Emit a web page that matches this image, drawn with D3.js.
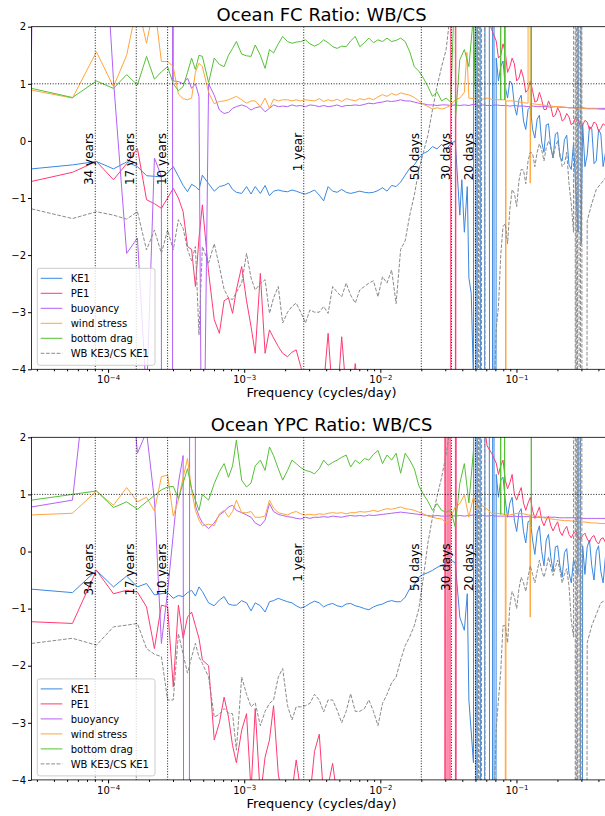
<!DOCTYPE html>
<html>
<head>
<meta charset="utf-8">
<script src="https://cdn.jsdelivr.net/npm/d3@7"></script>
<style>
  body { margin: 0; background: #fff; }
  text { font-family: "DejaVu Sans", sans-serif; }
</style>
</head>
<body>
<script>
// frequencies are harmonics of a 100 year record: f = harmonic / recordDays (cycles/day)
const recordDays = 36525;

const harmonics = [
  1, 2, 3, 4, 5, 6, 7, 8, 9, 10,
  11, 12, 13, 14, 15, 16, 17, 18, 20, 22,
  24, 26, 28, 30, 32, 35, 38, 41, 44, 48,
  52, 56, 60, 65, 70, 76, 82, 88, 95, 103,
  111, 120, 130, 140, 151, 163, 176, 190, 205, 221,
  239, 258, 279, 301, 325, 351, 379, 409, 442, 477,
  515, 556, 601, 649, 701, 757, 817, 883, 953, 1030,
  1112, 1201, 1297, 1401, 1513, 1634, 1765, 1906, 2058, 2223,
  2401, 2593, 2800, 3024, 3266, 3527, 3810, 4115, 4444, 4799,
  5183, 5598, 6046, 6530, 7052, 7616, 8225, 8883, 9594, 10361,
  11190, 12085, 13052, 14096, 15224, 16442, 17757, 18262
];

const seriesNames = ["KE1", "PE1", "buoyancy", "wind stress", "bottom drag", "WB KE3/CS KE1"];
const periodNames = ["34 years", "17 years", "10 years", "1 year", "50 days", "30 days", "20 days"];
const periodDays = [12418.5, 6209.25, 3652.5, 365.25, 50, 30, 20];
const yTickValues = [-4, -3, -2, -1, 0, 1, 2];
const xTickValues = [1e-4, 1e-3, 1e-2, 1e-1];
const xTickExponents = ["\u22124", "\u22123", "\u22122", "\u22121"];

// ---- Ocean FC ratio ----
const ke1FC = [
  -0.49, -0.42, -0.36, -0.49, -0.37, -0.45, -0.61, -0.62, -0.63, -0.56,
  -0.45, -0.62, -0.78, -0.89, -0.76, -0.8, -0.86, -0.6, -0.75, -0.88,
  -0.8, -0.78, -0.74, -0.85, -0.9, -0.92, -0.8, -0.93, -0.8, -0.92,
  -0.78, -0.96, -0.88, -0.86, -0.88, -0.89, -0.86, -0.88, -0.91, -0.93,
  -0.9, -0.86, -0.95, -1.05, -0.8, -0.88, -0.9, -0.85, -0.9, -0.92,
  -0.9, -0.88, -0.9, -0.91, -0.9, -0.87, -0.82, -0.88, -0.78, -0.8,
  -0.72, -0.6, -0.48, -0.42, -0.3, -0.22, -0.18, -0.1, -0.14, -0.06,
  -0.15, -0.05, 0.0, -1.3, -1.6, -2.4, -4.2, 60, -60, 60,
  -60, 1.45, 1.3, 0.95, 1.05, 0.62, 0.72, 0.35, 0.55, 0.2,
  0.38, -0.02, 0.28, -0.12, 0.12, -0.28, 0.02, -0.42, -0.05, -1.6,
  0.3, -0.25, 0.22, -0.35, 0.12, -0.22, 0.05, -0.05
];
const pe1FC = [
  -0.71, -0.55, -0.36, -0.68, -0.4, -0.13, -1.03, -1.1, -1.18, -1.0,
  -0.83, -1.0, -1.24, -1.85, -1.9, -2.55, -1.7, -1.12, -2.3, -3.13,
  -3.37, -2.8, -2.75, -3.02, -2.61, -2.2, -2.8, -3.25, -3.72, -2.32,
  -3.72, -3.31, -3.45, -3.6, -3.72, -3.78, -3.7, -3.66, -3.95, -4.3,
  -4.5, -4.4, -4.7, -4.3, -3.37, -4.5, -4.6, -3.43, -4.4, -4.7,
  -3.9, -4.6, -4.8, -5, -4.7, -5, -5.2, -5, -5.3, -5.5,
  -5.2, -5.5, -5.6, -5.8, -6, -6, -6.2, -6.5, -7, -8,
  -10, -10, 60, 8, 6, 5, 4, 3.5, 3, 2.2,
  1.95, 1.75, 1.5, 1.55, 1.3, 1.35, 1.1, 1.1, 0.9, 0.88,
  0.7, 0.72, 0.55, 0.6, 0.45, 0.5, 0.38, 0.42, 0.32, 0.38,
  0.28, 0.33, 0.24, 0.3, 0.22, 0.27, 0.2, 0.22
];
const buoyFC = [
  1.55, 60, 6, 1.07, -1.97, -1.7, -4.5, -0.3, -0.62, -60,
  1.05, 1.04, 1.0, 1.1, 0.92, 1.0, 0.78, -8, 1.0, 0.8,
  0.54, 0.48, 0.5, 0.57, 0.6, 0.63, 0.6, 0.54, 0.58, 0.6,
  0.51, 0.57, 0.63, 0.6, 0.61, 0.6, 0.63, 0.61, 0.62, 0.6,
  0.63, 0.62, 0.6, 0.62, 0.6, 0.61, 0.63, 0.6, 0.62, 0.62,
  0.63, 0.62, 0.64, 0.66, 0.65, 0.67, 0.68, 0.7, 0.69, 0.7,
  0.72, 0.7, 0.7, 0.68, 0.66, 0.65, 0.63, 0.63, 0.62, 0.63,
  0.63, 0.62, 0.63, 0.62, 0.63, 0.62, 0.64, 0.62, 0.63, 0.62,
  0.62, 0.63, 0.62, 0.62, 0.61, 0.62, 0.61, 0.61, 0.6, 0.61,
  0.6, 0.6, 0.6, 0.59, 0.6, 0.59, 0.59, 0.58, 0.58, 0.58,
  0.58, 0.57, 0.57, 0.57, 0.57, 0.57, 0.57, 0.57
];
const windFC = [
  0.89, 0.75, 1.56, 0.95, 1.5, 2.4, 1.71, 2.4, 1.39, 1.39,
  1.3, 0.82, 0.74, 0.72, 0.75, 1.2, 1.36, 1.3, 0.85, 0.65,
  0.69, 0.7, 0.72, 0.75, 0.78, 0.72, 0.66, 0.7, 0.7, 0.6,
  0.75, 0.57, 0.73, 0.7, 0.72, 0.72, 0.7, 0.72, 0.7, 0.72,
  0.71, 0.7, 0.74, 0.69, 0.72, 0.7, 0.73, 0.69, 0.74, 0.72,
  0.7, 0.74, 0.72, 0.75, 0.72, 0.77, 0.81, 0.78, 0.83, 0.8,
  0.84, 0.82, 0.8, 0.76, 0.7, 0.64, 0.6, 0.56, 0.58, 0.56,
  0.58, 0.63, 0.72, 0.75, 0.85, 0.75, 0.74, 0.72, 0.73, 0.75,
  0.73, 0.72, 0.72, 0.72, 0.7, 0.7, 0.68, 0.67, 0.66, 0.65,
  0.64, 0.63, 0.62, 0.61, 0.6, 0.6, 0.59, 0.58, 0.58, 0.57,
  0.57, 0.56, 0.56, 0.56, 0.55, 0.55, 0.55, 0.55
];
const dragFC = [
  0.92, 0.76, 1.05, 0.92, 1.16, 0.98, 1.48, 1.08, 1.21, 1.3,
  1.0, 0.88, 0.95, 1.2, 1.45, 1.25, 1.5, 1.48, 1.02, 1.45,
  1.34, 1.3, 1.5, 1.62, 1.74, 1.52, 1.49, 1.48, 1.68, 1.5,
  1.27, 1.6, 1.54, 1.7, 1.83, 1.74, 1.71, 1.73, 1.74, 1.77,
  1.7, 1.66, 1.7, 1.77, 1.72, 1.65, 1.62, 1.66, 1.65, 1.75,
  1.83, 1.65, 1.72, 1.8, 1.72, 1.77, 1.74, 1.8, 1.74, 1.76,
  1.8, 1.74, 1.56, 1.3, 1.22, 1.1, 0.95, 0.78, 0.86, 0.7,
  0.75, 0.68, 3, 1.42, 1.6, 1.3, 2.2, 30, 30, 30,
  30, 30, 0.72, 30, 30, 30, 30, 30, 30, 30,
  30, 30, 30, 30, 30, 30, 30, 30, 30, 30,
  30, 30, 30, 30, 30, 30, 30, 30
];
const wbFC = [
  -1.19, -1.36, -1.24, -1.3, -1.37, -1.24, -1.91, -1.56, -1.97, -1.56,
  -1.91, -1.38, -1.53, -1.9, -2.1, -1.85, -3.4, -1.85, -2.14, -1.8,
  -2.2, -2.6, -2.75, -2.78, -2.65, -2.49, -1.97, -2.4, -2.61, -2.5,
  -2.43, -3.02, -2.75, -2.55, -3.19, -3.0, -2.9, -2.84, -3.0, -3.19,
  -2.96, -3.0, -3.0, -2.9, -3.02, -2.55, -2.65, -2.73, -2.49, -2.7,
  -2.84, -2.61, -2.55, -2.49, -2.45, -2.73, -2.38, -2.49, -2.26, -2.85,
  -1.9, -1.75, -1.3, -0.95, -0.5, -0.2, 0.1, 0.55, 0.95, 1.3,
  1.6, 2.3, 2.8, 3, 3, 3, 3, -60, 60, -60,
  -6, -3.3, -2.0, -1.45, -1.2, -0.92, -0.7, -0.51, -0.35, -0.22,
  -0.2, -0.16, -0.12, -0.1, -0.1, -0.22, -0.4, -0.75, -1.6, 60,
  -60, -1.4, -1.1, -0.85, -0.75, -0.65, -0.6, -0.6
];
// extra samples (sharp spikes and the dense high-frequency noise), as [harmonic, value]
const ke1FCx = [
  [1450, -0.68], [1590, -0.8], [1700, -2.67], [1830, 60], [1860, -60], [2480, 60], [2520, -60],
  [2694, 1.05], [2910, 1.4], [3143, 0.75], [3394, 1.0], [3666, 0.45], [3959, 0.8], [4276, 0.2],
  [4618, 0.6], [4987, 0.05], [5386, 0.45], [5818, -0.2], [6283, 0.3], [6786, -0.3], [7329, 0.15],
  [7915, -0.35], [8548, 0.1], [9232, -0.5], [10600, 60], [10900, -1.8], [11629, -0.45], [12560, 0.25],
  [13564, -0.4], [14649, 0.2], [15821, -0.45], [17087, 0.15]
];
const pe1FCx = [
  [1210, 60], [1305, -60], [1315, 60],
  [2694, 1.45], [2910, 1.7], [3143, 1.2], [3394, 1.45], [3666, 1.05], [3959, 1.25], [4276, 0.85],
  [4618, 1.05], [4987, 0.68], [5386, 0.85], [5818, 0.55], [6283, 0.7], [6786, 0.42], [7329, 0.58],
  [7915, 0.35], [8548, 0.48], [9232, 0.28], [9970, 0.42], [10768, 0.25], [11629, 0.36], [12560, 0.2],
  [13564, 0.33], [14649, 0.17], [15821, 0.3], [17087, 0.15]
];
const buoyFCx = [[9.05, -60], [10.85, -60], [10.9, 60]];
const windFCx = [[1580, 1.55], [3030, 60], [3045, -60], [3060, 0.7], [4580, 60], [4610, -0.74], [4640, 0.66]];
const dragFCx = [[1305, 0.43], [1830, 0.6], [2900, 30], [2990, 0.72], [4700, 0.43]];
const wbFCx = [
  [1810, 60], [1840, -60], [1940, 60], [1990, -60],
  [2694, -2.9], [2910, -1.5], [3143, -1.8], [3394, -0.85], [3666, -1.15], [3959, -0.5], [4276, -0.75],
  [4618, -0.2], [4987, -0.45], [5386, -0.05], [5818, -0.35], [6283, 0.0], [6786, -0.3], [7329, 0.0],
  [7915, -0.45], [8548, -0.2], [9232, -1.1],
  [9800, 60], [9950, -60], [10100, 60], [10200, -60], [10700, -60], [10900, 60]
];

// ---- Ocean YPC ratio ----
const ke1YPC = [
  -0.66, -0.72, -0.33, -0.62, -0.43, -0.62, -0.56, -0.76, -0.74, -0.72,
  -0.82, -0.77, -0.79, -0.72, -0.68, -0.78, -0.62, -0.7, -0.9, -0.95,
  -0.85, -0.79, -0.92, -0.94, -0.94, -0.86, -0.9, -1.04, -0.9, -0.95,
  -1.06, -0.88, -0.86, -0.82, -0.85, -0.88, -0.9, -0.95, -0.99, -0.96,
  -0.91, -0.87, -0.9, -0.97, -0.93, -0.91, -0.95, -0.97, -0.92, -0.91,
  -0.95, -0.97, -1.0, -1.02, -0.97, -0.94, -0.92, -0.88, -0.86, -0.88,
  -0.88, -0.8, -0.65, -0.58, -0.45, -0.4, -0.37, -0.33, -0.28, -0.24,
  -0.22, -0.15, -0.2, -1.15, -1.38, -2.6, -3.7, 60, -60, 60,
  -60, 1.35, 1.25, 0.9, 0.85, 0.55, 0.68, 0.35, 0.52, 0.2,
  0.32, 0.0, 0.2, -0.1, 0.08, -0.25, -0.02, -0.38, -0.15, -0.4,
  0.1, 0.08, -0.25, 0.0, -0.35, -0.1, -0.3, -0.2
];
const pe1YPC = [
  -1.23, -1.26, -0.33, -0.74, -0.68, -0.71, -0.97, -1.7, -0.94, -0.97,
  -2.37, -0.94, -1.52, -1.15, -1.06, -1.3, -1.52, -1.9, -2.0, -3.3,
  -3.0, -2.55, -2.9, -3.4, -3.7, -3.13, -2.84, -4.2, -2.75, -4.3,
  -3.6, -3.3, -2.7, -3.9, -4.3, -4.5, -4.2, -3.65, -4.2, -4.5,
  -4.3, -3.5, -3.2, -4.3, -4.1, -3.71, -4.3, -4.6, -4.5, -4.7,
  -4.8, -4.6, -4.9, -5, -4.8, -5, -5.2, -5, -5.3, -5.5,
  -5.2, -5.5, -5.6, -5.8, -6, -6, -6.2, -6.5, -7, -8,
  -60, 60, 60, 8, 6, 5, 4, 3, 2.4, 1.85,
  1.72, 1.55, 1.5, 1.25, 1.2, 1.0, 1.02, 0.85, 0.85, 0.72,
  0.68, 0.55, 0.55, 0.45, 0.45, 0.35, 0.38, 0.3, 0.32, 0.25,
  0.28, 0.22, 0.25, 0.18, 0.22, 0.16, 0.2, 0.18
];
const buoyYPC = [
  0.78, 0.9, 4.7, 5, 4, 1.72, 2.1, 0.9, -1.61, -0.7,
  0.3, 1.2, 1.68, -60, 60, 0.8, 0.62, 0.5, 0.4, 0.5,
  0.64, 0.7, 0.78, 0.81, 0.72, 0.68, 0.64, 0.6, 0.5, 0.45,
  0.55, 0.84, 0.7, 0.65, 0.63, 0.61, 0.6, 0.58, 0.57, 0.6,
  0.58, 0.6, 0.6, 0.61, 0.6, 0.62, 0.61, 0.6, 0.62, 0.63,
  0.62, 0.63, 0.62, 0.64, 0.63, 0.64, 0.65, 0.66, 0.67, 0.68,
  0.69, 0.68, 0.67, 0.66, 0.65, 0.64, 0.63, 0.62, 0.63, 0.62,
  0.62, 0.63, 0.62, 0.63, 0.62, 0.63, 0.64, 0.63, 0.63, 0.62,
  0.63, 0.62, 0.62, 0.62, 0.61, 0.62, 0.61, 0.61, 0.61, 0.6,
  0.6, 0.6, 0.6, 0.6, 0.6, 0.59, 0.59, 0.59, 0.59, 0.59,
  0.58, 0.58, 0.58, 0.58, 0.58, 0.58, 0.58, 0.58
];
const windYPC = [
  0.64, 0.67, 1.06, 0.81, 1.12, 0.87, 0.95, 0.71, 1.31, 1.34,
  0.62, 0.9, 1.3, 1.63, 1.07, 0.72, 0.55, 0.45, 0.48, 0.45,
  0.66, 0.72, 0.6, 0.7, 0.9, 0.68, 0.68, 0.7, 0.6, 0.6,
  0.62, 0.9, 0.76, 0.68, 0.66, 0.64, 0.68, 0.7, 0.66, 0.64,
  0.65, 0.64, 0.66, 0.65, 0.67, 0.68, 0.67, 0.68, 0.66, 0.68,
  0.68, 0.7, 0.69, 0.7, 0.72, 0.7, 0.73, 0.75, 0.74, 0.76,
  0.78, 0.75, 0.74, 0.72, 0.69, 0.66, 0.62, 0.6, 0.58, 0.57,
  0.5, 0.6, 0.78, 0.84, 0.99, 0.6, 0.96, 0.72, 0.8, 0.74,
  0.67, 0.67, 0.66, 0.65, 0.64, 0.66, 0.67, 0.66, 0.64, 0.64,
  0.62, 0.6, 0.58, 0.57, 0.56, 0.55, 0.54, 0.54, 0.53, 0.52,
  0.52, 0.51, 0.5, 0.5, 0.49, 0.49, 0.49, 0.49
];
const dragYPC = [
  0.9, 1.0, 1.06, 0.77, 0.87, 0.74, 0.87, 0.98, 1.08, 1.13,
  1.14, 0.93, 1.2, 1.45, 1.1, 0.9, 0.72, 1.0, 0.9, 1.19,
  1.4, 1.54, 1.3, 1.5, 1.95, 1.25, 1.13, 1.2, 1.5, 1.6,
  1.42, 1.83, 1.68, 1.45, 1.25, 1.42, 1.6, 1.54, 1.47, 1.42,
  1.4, 1.36, 1.45, 1.6, 1.51, 1.56, 1.6, 1.65, 1.69, 1.48,
  1.6, 1.54, 1.63, 1.6, 1.7, 1.77, 1.54, 1.69, 1.6, 1.72,
  1.37, 1.72, 1.6, 1.45, 1.15, 1.0, 0.88, 0.72, 0.84, 0.72,
  0.69, 0.72, 0.43, 1.19, 1.54, 0.85, 1.77, 30, 30, 30,
  30, 30, 0.65, 30, 30, 30, 30, 30, 30, 30,
  30, 30, 30, 30, 30, 30, 30, 30, 30, 30,
  30, 30, 30, 30, 30, 30, 30, 30
];
const wbYPC = [
  -1.61, -1.52, -1.64, -1.32, -1.29, -1.26, -1.7, -1.8, -1.84, -2.6,
  -2.6, -1.44, -1.8, -2.13, -1.85, -1.61, -1.85, -1.96, -2.2, -2.9,
  -2.85, -2.75, -2.83, -2.84, -3.48, -2.2, -2.5, -2.72, -2.65, -3.05,
  -2.8, -2.66, -2.6, -2.2, -2.05, -2.7, -2.95, -2.72, -2.72, -2.7,
  -2.66, -2.5, -2.6, -2.81, -2.6, -2.6, -2.78, -3.0, -2.8, -2.49,
  -2.8, -2.8, -2.75, -2.6, -2.8, -3.05, -2.66, -2.5, -2.3, -2.2,
  -1.9, -1.65, -1.49, -1.3, -1.0, -0.45, 0.15, 0.6, 0.96, 1.3,
  1.7, 2.2, 2.8, 3, 3, 3, 3, -60, 60, -60,
  -6, -3.1, -2.1, -1.3, -0.95, -0.8, -0.65, -0.55, -0.45, -0.4,
  -0.35, -0.33, -0.3, -0.27, -0.28, -0.33, -0.4, -0.6, -1.5, 60,
  -60, -1.6, -1.3, -1.1, -0.9, -0.85, -0.8, -0.8
];
const ke1YPCx = [
  [1590, -0.74], [1830, 60], [1860, -60], [2480, 60], [2520, -60],
  [2694, 0.95], [2910, 1.3], [3143, 0.6], [3394, 0.95], [3666, 0.35], [3959, 0.75], [4276, 0.15],
  [4618, 0.55], [4987, -0.05], [5386, 0.45], [5818, -0.25], [6283, 0.3], [6786, -0.35], [7329, 0.1],
  [7915, -0.45], [8548, 0.05], [9232, -0.55], [10600, 60], [10900, -60], [11629, -0.4], [12560, 0.2],
  [13564, -0.5], [14649, 0.1], [15821, -0.55], [17087, 0.0]
];
const pe1YPCx = [
  [1080, -60], [1095, 60], [1150, 60], [1180, -60], [1305, -60], [1330, 60],
  [2694, 1.35], [2910, 1.6], [3143, 1.1], [3394, 1.35], [3666, 0.9], [3959, 1.12], [4276, 0.72],
  [4618, 0.95], [4987, 0.58], [5386, 0.78], [5818, 0.45], [6283, 0.62], [6786, 0.36], [7329, 0.52],
  [7915, 0.28], [8548, 0.44], [9232, 0.24], [9970, 0.36], [10768, 0.2], [11629, 0.32], [12560, 0.16],
  [13564, 0.28], [14649, 0.13], [15821, 0.24], [17087, 0.12]
];
const buoyYPCx = [];
const windYPCx = [[3030, -60], [3060, 0.65], [4580, 0.64], [4610, -1.15], [4640, 0.64]];
const dragYPCx = [[2900, 30], [2990, 0.65], [4700, 0.43]];
const wbYPCx = [
  [1810, 60], [1840, -60], [1940, 60], [1990, -60],
  [2694, -2.6], [2910, -1.3], [3143, -1.6], [3394, -0.7], [3666, -1.0], [3959, -0.45], [4276, -0.7],
  [4618, -0.25], [4987, -0.55], [5386, -0.15], [5818, -0.45], [6283, -0.1], [6786, -0.42], [7329, -0.15],
  [7915, -0.55], [8548, -0.3], [9232, -1.2],
  [9800, 60], [9950, -60], [10100, 60], [10200, -60], [10700, -60], [10900, 60]
];

const colors = ["#3a87e0", "#ff3a72", "#b560f5", "#ffa53d", "#55c035", "#8a8a8a"];

const svg = d3.select("body").append("svg")
  .attr("width", 605)
  .attr("height", 816);

function drawPanel(top, title, clipId, series, extras) {
  const left = 31.5, right = 611.6, h = 342.6, bottom = top + h;

  const x = d3.scaleLog()
    .domain([harmonics[0] / recordDays, 0.5])
    .range([left, right]);
  const y = d3.scaleLinear()
    .domain([-4, 2])
    .range([bottom, top]);

  svg.append("clipPath").attr("id", clipId)
    .append("rect")
    .attr("x", left).attr("y", top)
    .attr("width", right - left).attr("height", h);

  const plot = svg.append("g").attr("clip-path", "url(#" + clipId + ")");

  const line = d3.line()
    .x(function (d) { return x(d[0] / recordDays); })
    .y(function (d) { return y(d[1]); });

  // the curves
  series.forEach(function (vals, i) {
    const pts = harmonics.map(function (k, j) { return [k, vals[j]]; })
      .concat(extras[i])
      .sort(function (a, b) { return a[0] - b[0]; });
    plot.append("path")
      .datum(pts)
      .attr("fill", "none")
      .attr("stroke", colors[i])
      .attr("stroke-width", 1)
      .attr("stroke-linejoin", "round")
      .attr("stroke-dasharray", i === 5 ? "3.7,1.6" : null)
      .attr("d", line);
  });

  // reference lines
  plot.append("line")
    .attr("x1", left).attr("x2", right)
    .attr("y1", y(1)).attr("y2", y(1))
    .attr("stroke", "#000").attr("stroke-width", 0.9)
    .attr("stroke-dasharray", "1,1.65");

  periodDays.forEach(function (p, i) {
    const px = x(1 / p);
    plot.append("line")
      .attr("x1", px).attr("x2", px)
      .attr("y1", top).attr("y2", bottom)
      .attr("stroke", "#000").attr("stroke-width", 0.9)
      .attr("stroke-dasharray", "1,1.65");
    svg.append("text")
      .attr("transform", "translate(" + (px - 2) + "," + y(0.14) + ") rotate(-90)")
      .attr("text-anchor", "end")
      .attr("font-size", 12)
      .text(periodNames[i]);
  });

  // frame
  svg.append("rect")
    .attr("x", left).attr("y", top)
    .attr("width", right - left).attr("height", h)
    .attr("fill", "none").attr("stroke", "#000").attr("stroke-width", 0.8);

  // x axis: major ticks with 10^n labels, then minor ticks
  const xa = svg.append("g")
    .attr("transform", "translate(0," + bottom + ")")
    .call(d3.axisBottom(x).tickValues(xTickValues).tickSize(3.5).tickPadding(3.5).tickSizeOuter(0).tickFormat(""));
  xa.select(".domain").remove();
  xa.selectAll(".tick text").each(function (d, i) {
    const t = d3.select(this);
    t.append("tspan").text("10");
    t.append("tspan").attr("dy", "-0.5em").attr("font-size", 7).text(xTickExponents[i]);
  });
  xa.attr("font-family", "DejaVu Sans").attr("font-size", 10);

  const minor = [];
  [1e-5, 1e-4, 1e-3, 1e-2, 1e-1].forEach(function (dec) {
    [2, 3, 4, 5, 6, 7, 8, 9].forEach(function (m) {
      const v = dec * m;
      if (v > x.domain()[0] && v < 0.45) minor.push(v);
    });
  });
  const xm = svg.append("g")
    .attr("transform", "translate(0," + bottom + ")")
    .call(d3.axisBottom(x).tickValues(minor).tickSize(2).tickSizeOuter(0).tickFormat(""));
  xm.select(".domain").remove();

  // y axis
  const ya = svg.append("g")
    .attr("transform", "translate(" + left + ",0)")
    .call(d3.axisLeft(y).tickValues(yTickValues).tickSize(3.5).tickPadding(2).tickSizeOuter(0)
      .tickFormat(function (d) { return d < 0 ? "\u2212" + (-d) : String(d); }));
  ya.select(".domain").remove();
  ya.attr("font-family", "DejaVu Sans").attr("font-size", 10);

  // title and x label
  svg.append("text")
    .attr("x", (left + right) / 2).attr("y", top - 6)
    .attr("text-anchor", "middle").attr("font-size", 18)
    .text(title);
  svg.append("text")
    .attr("x", (left + right) / 2).attr("y", bottom + 28)
    .attr("text-anchor", "middle").attr("font-size", 13)
    .text("Frequency (cycles/day)");

  // legend
  const lg = svg.append("g");
  lg.append("rect")
    .attr("x", 37.3).attr("y", bottom - 101)
    .attr("width", 117.7).attr("height", 97)
    .attr("rx", 2.5)
    .attr("fill", "#fff").attr("fill-opacity", 0.8)
    .attr("stroke", "#cccccc").attr("stroke-width", 1);
  seriesNames.forEach(function (name, i) {
    const cy = bottom - 91 + 15 * i;
    lg.append("line")
      .attr("x1", 40.7).attr("x2", 62.3)
      .attr("y1", cy).attr("y2", cy)
      .attr("stroke", colors[i]).attr("stroke-width", 1)
      .attr("stroke-dasharray", i === 5 ? "3.7,1.6" : null);
    lg.append("text")
      .attr("x", 70.7).attr("y", cy + 3.6)
      .attr("font-size", 10)
      .text(name);
  });
}

drawPanel(26.7, "Ocean FC Ratio: WB/CS", "clipFC",
  [ke1FC, pe1FC, buoyFC, windFC, dragFC, wbFC],
  [ke1FCx, pe1FCx, buoyFCx, windFCx, dragFCx, wbFCx]);

drawPanel(437.3, "Ocean YPC Ratio: WB/CS", "clipYPC",
  [ke1YPC, pe1YPC, buoyYPC, windYPC, dragYPC, wbYPC],
  [ke1YPCx, pe1YPCx, buoyYPCx, windYPCx, dragYPCx, wbYPCx]);
</script>
</body>
</html>
